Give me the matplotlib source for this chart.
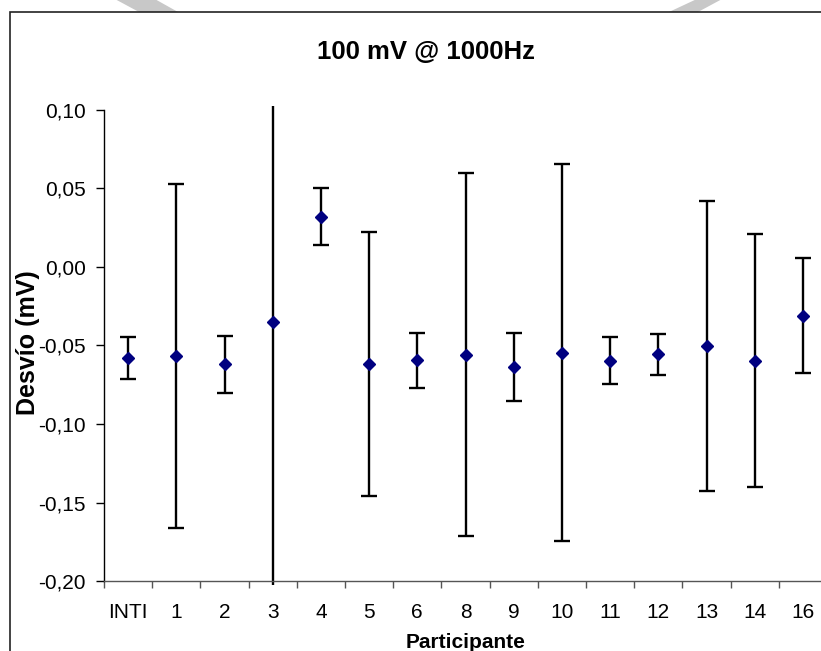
import matplotlib.pyplot as plt
import matplotlib.patches as patches
import numpy as np

plt.rcParams['font.family'] = ['Liberation Sans', 'DejaVu Sans']

FIG_W = 821
FIG_H = 651

# values
participants = ['INTI', '1', '2', '3', '4', '5', '6', '8', '9', '10', '11', '12', '13', '14', '16']
desvio = [-0.0578, -0.0567, -0.0620, -0.0350, 0.0320, -0.0620, -0.0594, -0.0558,
          -0.0637, -0.0546, -0.0597, -0.0556, -0.0501, -0.0597, -0.0310]
incert = [0.0135, 0.1097, 0.0180, 0.2000, 0.0180, 0.0840, 0.0175, 0.1156,
          0.0215, 0.1200, 0.0150, 0.0130, 0.0923, 0.0807, 0.0368]
y_ticks = [-0.20, -0.15, -0.10, -0.05, 0.00, 0.05, 0.10]
y_tick_labels = ['-0,20', '-0,15', '-0,10', '-0,05', '0,00', '0,05', '0,10']


def px_x(px):
    return px / FIG_W


def px_y(py):
    return 1 - py / FIG_H


def draw_background(fig):
    # grey watermark strokes peeking out above the chart area
    grey = '#c8c8c8'
    for pts in ([(113, -2), (153, -2), (178, 12), (139, 12)],
                [(699, -2), (724, -2), (698, 12), (669, 12)]):
        poly = patches.Polygon([(px_x(a), px_y(b)) for a, b in pts], closed=True,
                               transform=fig.transFigure, facecolor=grey,
                               edgecolor='none', zorder=0)
        fig.patches.append(poly)
    # chart area border (right and bottom edges are off the picture)
    frame = patches.Rectangle((px_x(9.5), -0.2), 1.5, px_y(11.5) + 0.2,
                              transform=fig.transFigure, facecolor='white',
                              edgecolor='#222222', linewidth=1.2, zorder=1)
    fig.patches.append(frame)


def main():
    fig = plt.figure(figsize=(FIG_W / 100, FIG_H / 100), dpi=100)
    draw_background(fig)

    ax = fig.add_axes([px_x(104), 66 / FIG_H, 723 / FIG_W, 479 / FIG_H])
    ax.set_zorder(5)
    ax.patch.set_visible(False)

    x = np.arange(len(participants))
    ax.errorbar(x, desvio, yerr=incert, fmt='none', ecolor='black',
                elinewidth=1.7, capsize=5.7, capthick=1.7, zorder=2)
    ax.plot(x, desvio, linestyle='none', marker='D', markersize=6.2,
            color='#000080', zorder=3)

    ax.set_xlim(-0.5, len(participants) - 0.5)
    ax.set_ylim(-0.2025, 0.1025)

    ax.spines['top'].set_visible(False)
    ax.spines['right'].set_visible(False)
    ax.spines['left'].set_bounds(-0.20, 0.10)
    ax.spines['left'].set_linewidth(1.0)
    ax.spines['bottom'].set_position(('data', -0.20))
    ax.spines['bottom'].set_color('#555555')
    ax.spines['bottom'].set_linewidth(1.0)

    ax.set_yticks(y_ticks)
    ax.set_yticklabels(y_tick_labels)
    ax.tick_params(axis='y', direction='out', length=6, width=1, pad=7, labelsize=15)

    ax.set_xticks(x)
    ax.set_xticklabels(participants)
    ax.set_xticks(np.arange(-0.5, len(participants), 1), minor=True)
    ax.tick_params(axis='x', which='major', length=0, pad=16, labelsize=15)
    ax.tick_params(axis='x', which='minor', direction='out', length=5, width=1,
                   color='#555555')

    ax.set_xlabel('Participante', fontsize=15, fontweight='bold')
    ax.xaxis.set_label_coords(0.5, -0.100)
    ax.set_ylabel('Desvío (mV)', fontsize=18, fontweight='bold')
    ax.yaxis.set_label_coords(-0.089, 0.505)

    fig.text(px_x(426), px_y(52), '100 mV @ 1000Hz', ha='center', va='center',
             fontsize=18.5, fontweight='bold')

    fig.savefig('out.png', dpi=100)


if __name__ == "__main__":
    main()
